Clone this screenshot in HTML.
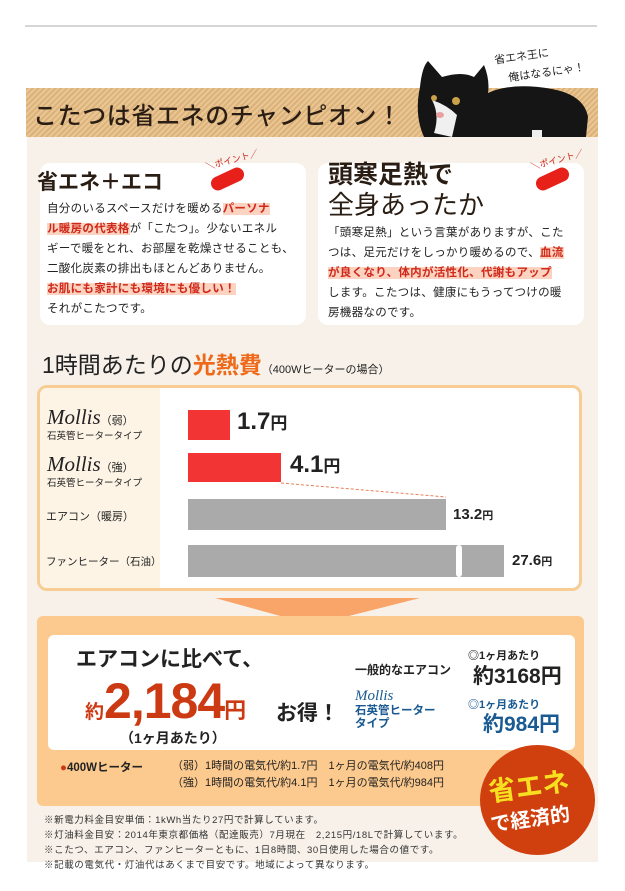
<!DOCTYPE html>
<html><head><meta charset="utf-8"><style>
*{margin:0;padding:0;box-sizing:border-box}
body{width:625px;height:891px;background:#fff;position:relative;overflow:hidden;font-family:"Liberation Sans","Noto Sans CJK JP",sans-serif;color:#222}
.a{position:absolute;white-space:nowrap}
.card{position:absolute;background:#fff;border-radius:10px}
.t{font-size:11.5px;line-height:20px;letter-spacing:0.3px}
.hl{background:#fbd3c0;color:#d0281a;font-weight:bold}
.lbl{font-size:11px}
.mol{font-family:"Liberation Serif",serif;font-style:italic;font-size:21px}
.fn{font-size:9.5px;color:#333;line-height:15px;letter-spacing:0.6px}
</style></head><body>
<div class="a" style="left:25px;top:25px;width:572px;height:2px;background:#d6d6d6"></div>
<div class="a" style="left:27px;top:137px;width:571px;height:725px;background:#f7f1e9"></div>
<div class="a" style="left:26px;top:88px;width:572px;height:49px;background:repeating-linear-gradient(135deg,#ddb27a 0 2px,#e9c795 2px 4px)"></div>
<div class="a" style="left:33px;top:96px;font-size:24px;color:#2a1e14;font-weight:500;letter-spacing:0.6px">こたつは省エネのチャンピオン！</div>
<svg class="a" style="left:412px;top:55px" width="190" height="85">
<path d="M8 32 Q10 12 16 6 L30 22 Q50 16 62 22 L72 10 Q78 25 76 38 Q100 27 140 34 Q172 40 176 62 L174 82 L12 82 Q2 60 8 32Z" fill="#151515"/>
<path d="M20 45 Q28 60 22 78 L40 82 L45 60 Q35 50 20 45Z" fill="#f0f0f0"/>
<circle cx="22" cy="43" r="3" fill="#c9a24a"/><circle cx="44" cy="46" r="4" fill="#c9a24a"/>
<ellipse cx="28" cy="60" rx="4" ry="3" fill="#e8a0a0"/>
<rect x="120" y="75" width="10" height="7" fill="#eee"/>
</svg>
<div class="a" style="left:494px;top:48px;font-size:11px;transform:rotate(-8deg)">省エネ王に</div>
<div class="a" style="left:508px;top:64px;font-size:11px;transform:rotate(-8deg)">俺はなるにゃ！</div>

<div class="card" style="left:40px;top:163px;width:266px;height:162px"></div>
<div class="card" style="left:318px;top:163px;width:266px;height:162px"></div>
<div class="a" style="left:37px;top:166px;font-size:21px;font-weight:bold;color:#2a1e14">省エネ＋エコ</div>
<div class="a" style="left:205px;top:153px;font-size:9px;color:#d0281a;transform:rotate(-15deg)">＼ポイント／</div>
<div class="a" style="left:210px;top:172px;width:35px;height:14px;background:#e8201a;border-radius:10px;transform:rotate(-25deg)"></div>
<div class="a" style="left:530px;top:153px;font-size:9px;color:#d0281a;transform:rotate(-15deg)">＼ポイント／</div>
<div class="a" style="left:535px;top:172px;width:35px;height:14px;background:#e8201a;border-radius:10px;transform:rotate(-25deg)"></div>
<div class="a t" style="left:47px;top:199px">自分のいるスペースだけを暖める<span class="hl">パーソナ</span><br><span class="hl">ル暖房の代表格</span>が「こたつ」。少ないエネル<br>ギーで暖をとれ、お部屋を乾燥させることも、<br>二酸化炭素の排出もほとんどありません。<br><span class="hl">お肌にも家計にも環境にも優しい！</span><br>それがこたつです。</div>
<div class="a" style="left:328px;top:160px;font-size:25px;font-weight:bold;color:#2a1e14;line-height:30px">頭寒足熱で</div>
<div class="a" style="left:328px;top:190px;font-size:26px;color:#2a1e14;line-height:30px">全身あったか</div>
<div class="a t" style="left:328px;top:223px">「頭寒足熱」という言葉がありますが、こた<br>つは、足元だけをしっかり暖めるので、<span class="hl">血流</span><br><span class="hl">が良くなり、体内が活性化、代謝もアップ</span><br>します。こたつは、健康にもうってつけの暖<br>房機器なのです。</div>

<div class="a" style="left:42px;top:346px;font-size:23px;color:#222">1時間あたりの<b style="color:#ee6a1a">光熱費</b><span style="font-size:11px">（400Wヒーターの場合）</span></div>
<div class="a" style="left:37px;top:385px;width:545px;height:206px;border:3px solid #f8cd93;border-radius:10px;background:#fff;overflow:hidden">
<div style="position:absolute;left:0;top:0;width:120px;height:200px;background:#fdf4e6"></div></div>
<div class="a" style="left:47px;top:405px"><span class="mol">Mollis</span><span style="font-size:11px">（弱）</span></div>
<div class="a lbl" style="left:47px;top:428px;font-size:9.5px">石英管ヒータータイプ</div>
<div class="a" style="left:47px;top:452px"><span class="mol">Mollis</span><span style="font-size:11px">（強）</span></div>
<div class="a lbl" style="left:47px;top:475px;font-size:9.5px">石英管ヒータータイプ</div>
<div class="a lbl" style="left:46px;top:508px">エアコン（暖房）</div>
<div class="a lbl" style="left:46px;top:554px;font-size:10.5px">ファンヒーター（石油）</div>
<div class="a" style="left:188px;top:410px;width:42px;height:30px;background:#f33434"></div>
<div class="a" style="left:237px;top:408px;font-size:24px;font-weight:bold">1.7<span style="font-size:17px">円</span></div>
<div class="a" style="left:188px;top:453px;width:93px;height:29px;background:#f33434"></div>
<div class="a" style="left:290px;top:451px;font-size:24px;font-weight:bold">4.1<span style="font-size:17px">円</span></div>
<svg class="a" style="left:0;top:0" width="625" height="891"><line x1="281" y1="483" x2="446" y2="497" stroke="#e8805a" stroke-dasharray="3,2"/>
<polygon points="215,598 420,598 313,625" fill="#f9a468"/></svg>
<div class="a" style="left:188px;top:499px;width:258px;height:31px;background:#aaa"></div>
<div class="a" style="left:453px;top:506px;font-size:15px;font-weight:bold">13.2<span style="font-size:11px">円</span></div>
<div class="a" style="left:188px;top:545px;width:316px;height:32px;background:#aaa"></div>
<div class="a" style="left:456px;top:545px;width:6px;height:32px;background:#fff;border-radius:3px"></div>
<div class="a" style="left:512px;top:552px;font-size:15px;font-weight:bold">27.6<span style="font-size:11px">円</span></div>

<div class="a" style="left:37px;top:616px;width:547px;height:190px;background:#fcca8e;border-radius:6px"></div>
<div class="a" style="left:48px;top:635px;width:527px;height:115px;background:#fff;border-radius:6px"></div>
<div class="a" style="left:76px;top:643px;font-size:21px;font-weight:bold">エアコンに比べて、</div>
<div class="a" style="left:85px;top:672px;color:#cc3a14;font-weight:bold;font-size:19px">約<span style="font-size:50px;letter-spacing:-1px">2,184</span><span style="font-size:22px">円</span></div>
<div class="a" style="left:276px;top:697px;font-size:21px;font-weight:bold">お得！</div>
<div class="a" style="left:120px;top:728px;font-size:14px;font-weight:bold">（1ヶ月あたり）</div>
<div class="a" style="left:355px;top:661px;font-size:12px;font-weight:bold">一般的なエアコン</div>
<div class="a" style="left:468px;top:647px;font-size:11px;font-weight:bold">◎1ヶ月あたり</div>
<div class="a" style="left:473px;top:660px;font-size:21px;font-weight:bold">約3168円</div>
<div class="a" style="left:355px;top:688px;font-family:'Liberation Serif',serif;font-style:italic;font-size:15px;color:#1a5a92">Mollis</div>
<div class="a" style="left:355px;top:705px;font-size:11.5px;font-weight:bold;color:#1a5a92;line-height:13px">石英管ヒーター<br>タイプ</div>
<div class="a" style="left:468px;top:696px;font-size:11px;font-weight:bold;color:#1a5a92">◎1ヶ月あたり</div>
<div class="a" style="left:483px;top:708px;font-size:21px;font-weight:bold;color:#1a5a92">約984円</div>
<div class="a" style="left:60px;top:759px;font-size:11.5px;font-weight:bold"><span style="color:#cc3a14">●</span>400Wヒーター</div>
<div class="a" style="left:172px;top:758px;font-size:11px;line-height:17px">（弱）1時間の電気代/約1.7円　1ヶ月の電気代/約408円<br>（強）1時間の電気代/約4.1円　1ヶ月の電気代/約984円</div>
<div class="a" style="left:480px;top:745px;width:115px;height:110px;border-radius:50%;background:#d0400f"></div>
<div class="a" style="left:488px;top:765px;font-size:27px;font-weight:bold;color:#f8e020;transform:rotate(-8deg)">省エネ</div>
<div class="a" style="left:490px;top:803px;font-size:20px;font-weight:bold;color:#fff;transform:rotate(-8deg)">で経済的</div>
<div class="a fn" style="left:44px;top:813px">※新電力料金目安単価：1kWh当たり27円で計算しています。<br>※灯油料金目安：2014年東京都価格（配達販売）7月現在　2,215円/18Lで計算しています。<br>※こたつ、エアコン、ファンヒーターともに、1日8時間、30日使用した場合の値です。<br>※記載の電気代・灯油代はあくまで目安です。地域によって異なります。</div>
</body></html>
